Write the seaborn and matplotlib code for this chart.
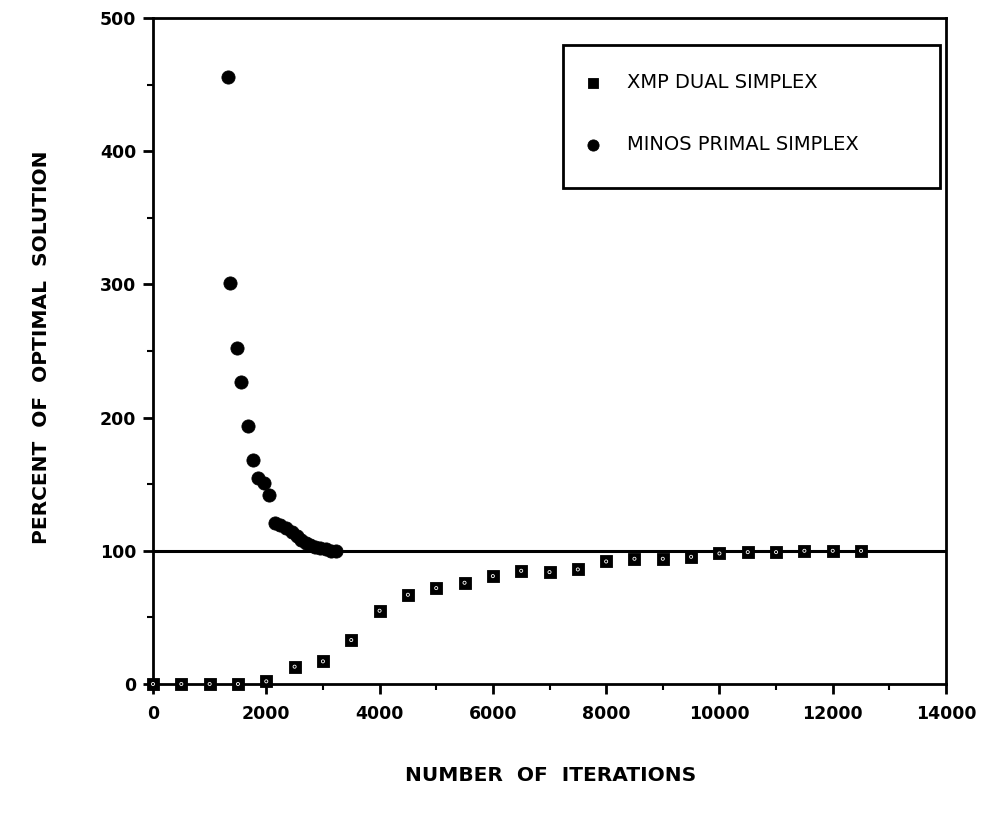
import matplotlib
matplotlib.use("Agg")
import matplotlib.pyplot as plt
from matplotlib.patches import Rectangle
from matplotlib.ticker import MultipleLocator
import seaborn as sns
import pandas as pd

# XMP dual simplex: objective as percent of optimum, sampled every 500 iterations
xmp_iters = [0, 500, 1000, 1500, 2000, 2500, 3000, 3500, 4000, 4500, 5000,
             5500, 6000, 6500, 7000, 7500, 8000, 8500, 9000, 9500, 10000,
             10500, 11000, 11500, 12000, 12500]
xmp_pct = [0, 0, 0, 0, 2, 13, 17, 33, 55, 67, 72,
           76, 81, 85, 84, 86, 92, 94, 94, 95.5, 98,
           99, 99, 100, 100, 100]

# MINOS primal simplex
minos_iters = [1320, 1360, 1480, 1550, 1680, 1765, 1855, 1960, 2050, 2150,
               2250, 2350, 2450, 2550, 2620, 2700, 2780, 2860, 2950, 3050,
               3150, 3230]
minos_pct = [456, 301, 252, 227, 194, 168, 155, 151, 142, 121,
             119, 117, 114, 111, 108, 106, 104, 103, 102, 101,
             100, 100]

optimum = 100

xmp = pd.DataFrame({"iterations": xmp_iters, "percent": xmp_pct})
minos = pd.DataFrame({"iterations": minos_iters, "percent": minos_pct})

sns.set_theme(style="ticks")
plt.rcParams["font.family"] = ["DejaVu Sans"]
plt.rcParams["text.color"] = "black"

W, H = 989, 821
fig = plt.figure(figsize=(W / 100, H / 100), dpi=100)
ax = fig.add_axes([153 / W, 1 - 684 / H, (946 - 153) / W, (684 - 18) / H])

ax.axhline(optimum, color="black", lw=2.2, zorder=1)

sns.scatterplot(data=xmp, x="iterations", y="percent", ax=ax, marker="s",
                s=80, facecolor="black", edgecolor="black", linewidth=0.6,
                clip_on=False, zorder=3, label="XMP DUAL SIMPLEX")
# small light ring inside each square marker
ax.scatter(xmp["iterations"], xmp["percent"], marker="o", s=5,
           facecolor="none", edgecolor="white", linewidths=0.6,
           clip_on=False, zorder=4)
sns.scatterplot(data=minos, x="iterations", y="percent", ax=ax, marker="o",
                s=90, facecolor="black", edgecolor="black", linewidth=0.6,
                clip_on=False, zorder=3, label="MINOS PRIMAL SIMPLEX")

ax.set_xlim(0, 14000)
ax.set_ylim(0, 500)
ax.xaxis.set_major_locator(MultipleLocator(2000))
ax.xaxis.set_minor_locator(MultipleLocator(1000))
ax.yaxis.set_major_locator(MultipleLocator(100))
ax.yaxis.set_minor_locator(MultipleLocator(50))

for sp in ax.spines.values():
    sp.set_visible(True)
    sp.set_linewidth(2.0)
    sp.set_color("black")

ax.tick_params(axis="both", which="major", direction="out", length=7,
               width=2, colors="black")
ax.tick_params(axis="x", which="major", pad=8)
ax.tick_params(axis="y", which="major", pad=5)
ax.tick_params(axis="both", which="minor", direction="out", length=4,
               width=1.5, colors="black")
for lbl in ax.get_xticklabels() + ax.get_yticklabels():
    lbl.set_fontweight("bold")
    lbl.set_fontsize(12.5)

ax.set_xlabel("")
ax.set_ylabel("")
fig.text(551 / W, 1 - 775 / H, "NUMBER  OF  ITERATIONS",
         ha="center", va="center", fontsize=14.5, fontweight="bold",
         color="black")
fig.text(42 / W, 1 - 347 / H, "PERCENT  OF  OPTIMAL  SOLUTION",
         ha="center", va="center", rotation=90, fontsize=14.5,
         fontweight="bold", color="black")

# legend box, drawn beneath the legend entries
box = Rectangle((563 / W, 1 - 188 / H), (940 - 563) / W, (188 - 45) / H,
                transform=fig.transFigure, facecolor="white",
                edgecolor="black", linewidth=2.0, zorder=5, clip_on=False)
ax.add_patch(box)

handles, labels = ax.get_legend_handles_labels()
leg = ax.legend(handles, labels, loc="upper left",
                bbox_to_anchor=(582 / W, 1 - 73 / H),
                bbox_transform=fig.transFigure,
                frameon=False, fontsize=14, borderpad=0, labelspacing=2.2,
                handlelength=1.1, handletextpad=1.2, borderaxespad=0,
                markerscale=0.85)
leg.set_zorder(10)
for t in leg.get_texts():
    t.set_color("black")

fig.savefig("out.png", dpi=100)
